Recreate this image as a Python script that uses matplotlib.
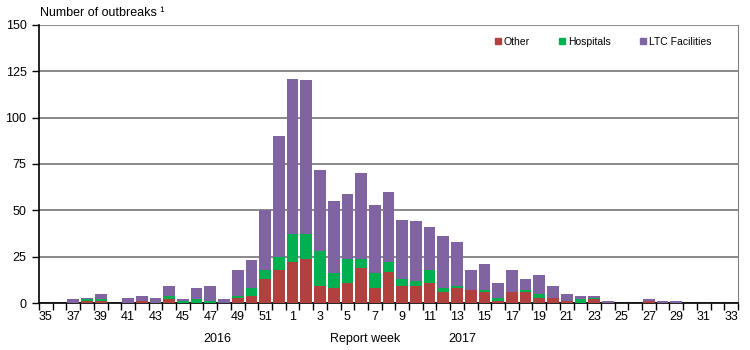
"""Weekly outbreak counts by setting, report week 35/2016 to 33/2017."""

import matplotlib.pyplot as plt
from matplotlib.lines import Line2D
import numpy as np

plt.rcParams["font.family"] = ["Liberation Sans", "DejaVu Sans"]

OUTPUT_PATH = "out.png"

WEEKS = list(range(35, 53)) + list(range(1, 34))
OTHER = [0, 0, 0, 1, 1, 0, 0, 1, 0, 2, 0, 0, 0, 0, 3, 4, 13, 18,
         22, 24, 9, 8, 11, 19, 8, 17, 9, 9, 11, 6, 8, 7, 6, 1, 6, 6, 3,
         3, 1, 0, 2, 0, 0, 0, 1, 0, 0, 0, 0, 0, 0]
HOSPITALS = [0, 0, 0, 1, 1, 0, 0, 0, 0, 2, 1, 2, 1, 0, 1, 4, 5, 7,
             15, 13, 19, 8, 13, 5, 8, 5, 4, 3, 7, 2, 1, 0, 1, 2, 0, 1, 2,
             0, 0, 2, 1, 0, 0, 0, 0, 0, 0, 0, 0, 0, 0]
LTC = [0, 0, 2, 1, 3, 0, 3, 3, 3, 5, 1, 6, 8, 2, 14, 15, 32, 65,
       84, 83, 44, 39, 35, 46, 37, 38, 32, 32, 23, 28, 24, 11, 14, 8, 12, 6, 10,
       6, 4, 2, 1, 1, 0, 0, 1, 1, 1, 0, 0, 0, 0]

SERIES = [("Other", OTHER, "#B0413E"),
          ("Hospitals", HOSPITALS, "#00B050"),
          ("LTC Facilities", LTC, "#8064A2")]


def main():
    fig = plt.figure(figsize=(7.5, 3.5), dpi=100)
    ax = fig.add_axes([0.052, 0.134, 0.932, 0.795])

    x = np.arange(len(WEEKS))
    bottom = np.zeros(len(WEEKS))
    for label, values, color in SERIES:
        ax.bar(x, values, width=0.85, bottom=bottom, color=color, label=label,
               zorder=3)
        bottom = bottom + np.array(values)

    ax.set_xlim(-0.5, len(WEEKS) - 0.5)
    ax.set_ylim(0, 150)
    ax.set_yticks(range(0, 151, 25))
    ax.yaxis.grid(True, color="#808080", linewidth=1.3, zorder=0)

    labelled = [i for i, w in enumerate(WEEKS) if w % 2 == 1]
    ax.set_xticks(labelled)
    ax.set_xticklabels([str(WEEKS[i]) for i in labelled])
    ax.set_xticks(np.arange(-0.5, len(WEEKS)), minor=True)
    ax.tick_params(axis="x", which="major", length=0, pad=6, labelsize=9)
    ax.tick_params(axis="x", which="minor", length=5, width=1, color="black")
    ax.tick_params(axis="y", length=5, width=1, labelsize=9, pad=4)

    ax.spines["top"].set_visible(False)
    ax.spines["right"].set_color("#808080")
    ax.spines["left"].set_linewidth(1.2)
    ax.spines["bottom"].set_linewidth(1.2)

    fig.text(0.053, 0.955, "Number of outbreaks \u00b9", fontsize=9,
             ha="left", va="baseline")
    fig.text(0.29, 0.022, "2016", fontsize=9, ha="center", va="baseline")
    fig.text(0.487, 0.022, "Report week", fontsize=9, ha="center", va="baseline")
    fig.text(0.616, 0.022, "2017", fontsize=9, ha="center", va="baseline")

    handles = [Line2D([], [], marker="s", linestyle="none", color=color,
                      markersize=4.5) for _, _, color in SERIES]
    ax.legend(handles, [s[0] for s in SERIES], loc="upper right",
              bbox_to_anchor=(0.975, 0.99), ncol=3, frameon=False, fontsize=7.5,
              handletextpad=0.05, columnspacing=2.6, handlelength=1.0)

    fig.savefig(OUTPUT_PATH, dpi=100)
    plt.close(fig)


if __name__ == "__main__":
    main()
